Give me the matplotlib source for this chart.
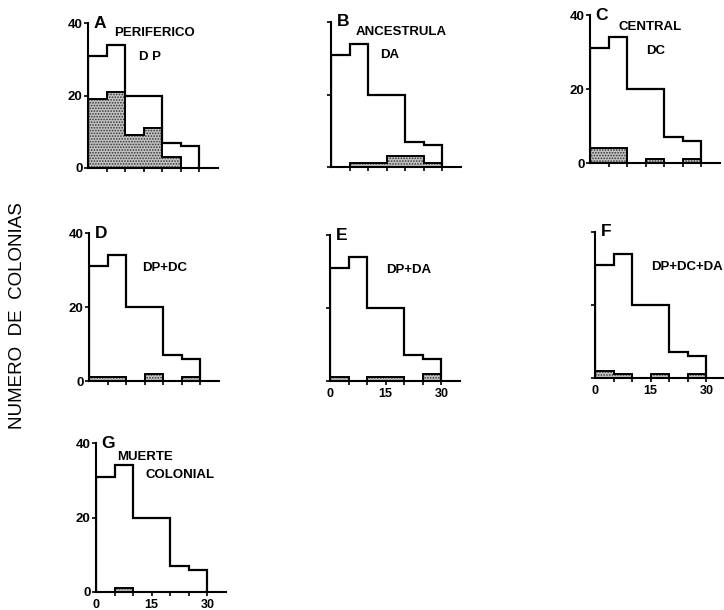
import numpy as np
import matplotlib.pyplot as plt

plt.rcParams['font.family'] = ['Liberation Sans', 'DejaVu Sans']
plt.rcParams['hatch.linewidth'] = 0.8

# age classes (edges) and total colonies per class
edges = [0, 5, 10, 15, 20, 25, 30]
total = [31, 34, 20, 20, 7, 6]

# shaded part (colonies with each kind of damage) per panel
dp = [19, 21, 9, 11, 3, 0]
da = [0, 1, 1, 3, 3, 1]
dc = [4, 4, 0, 1, 0, 1]
dp_dc = [1, 1, 0, 2, 0, 1]
dp_da = [1, 0, 1, 1, 0, 2]
dp_dc_da = [2, 1, 0, 1, 0, 1]
muerte = [0, 1, 0, 0, 0, 0]

letters = ['A', 'B', 'C', 'D', 'E', 'F', 'G']
shaded = [dp, da, dc, dp_dc, dp_da, dp_dc_da, muerte]
# panel titles: (text, x, y) in data units
titles = [
    [('PERIFERICO', 18, 37.2), ('D P', 16.6, 30.6)],
    [('ANCESTRULA', 19, 37.2), ('DA', 15.7, 30.9)],
    [('CENTRAL', 16.3, 36.8), ('DC', 17.7, 30.3)],
    [('DP+DC', 20.3, 30.5)],
    [('DP+DA', 21.3, 30.5)],
    [('DP+DC+DA', 24.8, 30.4)],
    [('MUERTE', 13.2, 36.2), ('COLONIAL', 22.7, 31.4)],
]
show_y = [True, False, True, True, False, False, True]
show_x = [False, False, False, False, True, True, True]

# axes positions in pixels: (left, bottom_px_from_top, top_px_from_top)
W, H = 724, 610
boxes = [
    (88, 168, 23),
    (331, 167, 22),
    (590, 163, 15),
    (89, 381, 233),
    (330, 381, 235),
    (595, 378, 232),
    (96, 592, 443),
]

fig = plt.figure(figsize=(W / 100, H / 100), dpi=100)

for i in range(7):
    left, bot, top = boxes[i]
    ax = fig.add_axes([left / W, (H - bot) / H, 130 / W, (bot - top) / H])

    vals = shaded[i]
    ax.bar(edges[:-1], vals, width=5, align='edge', facecolor='#c2c2c2',
           edgecolor='#333333', linewidth=0, hatch='......', zorder=1)
    ax.stairs(vals, edges, color='black', lw=1.4, zorder=2)
    ax.stairs(total, edges, color='black', lw=1.6, zorder=3)

    ax.set_xlim(0, 35)
    ax.set_ylim(0, 40)
    for s in ['top', 'right']:
        ax.spines[s].set_visible(False)
    for s in ['left', 'bottom']:
        ax.spines[s].set_linewidth(1.5)

    ax.set_yticks([0, 20, 40])
    ax.set_xticks([5, 10, 15, 20, 25, 30])
    ax.tick_params(axis='y', direction='out', length=3, width=1.2, pad=1,
                   labelsize=9.5)
    ax.tick_params(axis='x', direction='out', length=3, width=1.2, pad=2,
                   labelsize=9)
    if show_y[i]:
        ax.set_yticklabels(['0', '20', '40'], fontweight='bold')
    else:
        ax.set_yticklabels([])
    if show_x[i]:
        ax.set_xticks([0, 5, 10, 15, 20, 25, 30])
        ax.set_xticklabels(['0', '', '', '15', '', '', '30'], fontweight='bold')
        ax.get_xticklines()[0].set_visible(False)
    else:
        ax.set_xticklabels([])

    ax.text(1.5, 40, letters[i], fontsize=12.5, fontweight='bold',
            ha='left', va='center', clip_on=False)
    for txt, x, y in titles[i]:
        ax.text(x, y, txt, fontsize=9.5, fontweight='bold', ha='center',
                va='center', clip_on=False)

fig.text(18 / W, 0.482, 'NUMERO  DE  COLONIAS', rotation=90, fontsize=13.5,
         ha='center', va='center')

fig.savefig('out.png', dpi=100)
